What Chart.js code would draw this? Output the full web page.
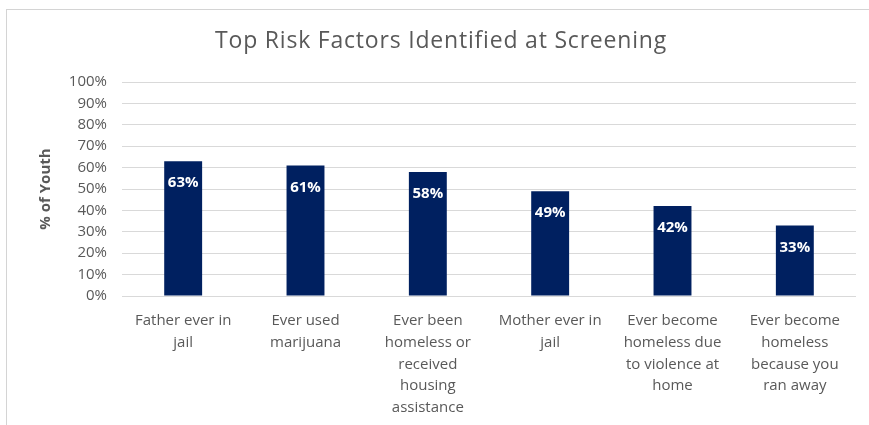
<!DOCTYPE html>
<html><head><meta charset="utf-8">
<script src="https://cdn.jsdelivr.net/npm/chart.js@4.4.1/dist/chart.umd.min.js"></script>
<style>
html,body{margin:0;padding:0;background:#fff;overflow:hidden;}
#wrap{position:absolute;left:0;top:0;width:869px;height:425px;}
#frame{position:absolute;left:6px;top:9px;width:900px;height:460px;border:1.5px solid #d4d4d4;box-sizing:border-box;}
</style></head>
<body>
<div id="wrap"><div id="frame"></div><canvas id="c" width="869" height="425"></canvas></div>
<script>
const chartTitle = 'Top Risk Factors Identified at Screening';
const categories = [
  ["Father ever in", "jail"],
  ["Ever used", "marijuana"],
  ["Ever been", "homeless or", "received", "housing", "assistance"],
  ["Mother ever in", "jail"],
  ["Ever become", "homeless due", "to violence at", "home"],
  ["Ever become", "homeless", "because you", "ran away"]
];
const values = [63, 61, 58, 49, 42, 33];
const yTickMax = 100;
const yTickStep = 10;

const FONT = "'Open Sans', 'Liberation Sans', sans-serif";
const GRAY = '#595959';

const labelPlugin = {
  id: 'barLabels',
  afterDatasetsDraw(chart) {
    const ctx = chart.ctx;
    const meta = chart.getDatasetMeta(0);
    ctx.save();
    ctx.fillStyle = '#ffffff';
    ctx.font = 'bold 15px ' + FONT;
    ctx.textAlign = 'center';
    ctx.textBaseline = 'middle';
    meta.data.forEach((bar, i) => {
      ctx.fillText(values[i] + '%', bar.x, bar.y + 22);
    });
    ctx.restore();
  },
  afterDraw(chart) {
    const ctx = chart.ctx;
    ctx.save();
    ctx.fillStyle = GRAY;
    ctx.font = '23px ' + FONT;
    ctx.letterSpacing = '0.8px';
    ctx.textAlign = 'center';
    ctx.textBaseline = 'middle';
    ctx.fillText(chartTitle, 441, 41);
    ctx.restore();
  }
};

new Chart(document.getElementById('c'), {
  type: 'bar',
  data: {
    labels: categories,
    datasets: [{
      data: values,
      backgroundColor: '#002060',
      borderWidth: 0,
      categoryPercentage: 1.0,
      barPercentage: 0.31
    }]
  },
  options: {
    responsive: false,
    animation: false,
    devicePixelRatio: 1,
    layout: { padding: { left: 33, right: 13, top: 82, bottom: 0 } },
    plugins: {
      legend: { display: false },
      tooltip: { enabled: false },
      title: { display: false }
    },
    scales: {
      x: {
        grid: { display: false, drawTicks: false },
        border: { display: false },
        ticks: {
          color: GRAY,
          font: { family: FONT, size: 15, lineHeight: 1.45 },
          padding: 14,
          maxRotation: 0,
          autoSkip: false
        },
        afterFit(s) { s.height = 129; }
      },
      y: {
        min: 0,
        max: yTickMax,
        grid: { color: '#d9d9d9', lineWidth: 1, drawTicks: false },
        border: { display: false },
        ticks: {
          stepSize: yTickStep,
          color: GRAY,
          font: { family: FONT, size: 15 },
          padding: 15,
          callback: v => v + '%'
        },
        title: {
          display: true,
          text: '% of Youth',
          color: GRAY,
          font: { family: FONT, size: 15, weight: 'bold' },
          padding: { top: 4, bottom: 4 }
        },
        afterFit(s) { s.width = 89; }
      }
    }
  },
  plugins: [labelPlugin]
});
</script>
</body></html>
